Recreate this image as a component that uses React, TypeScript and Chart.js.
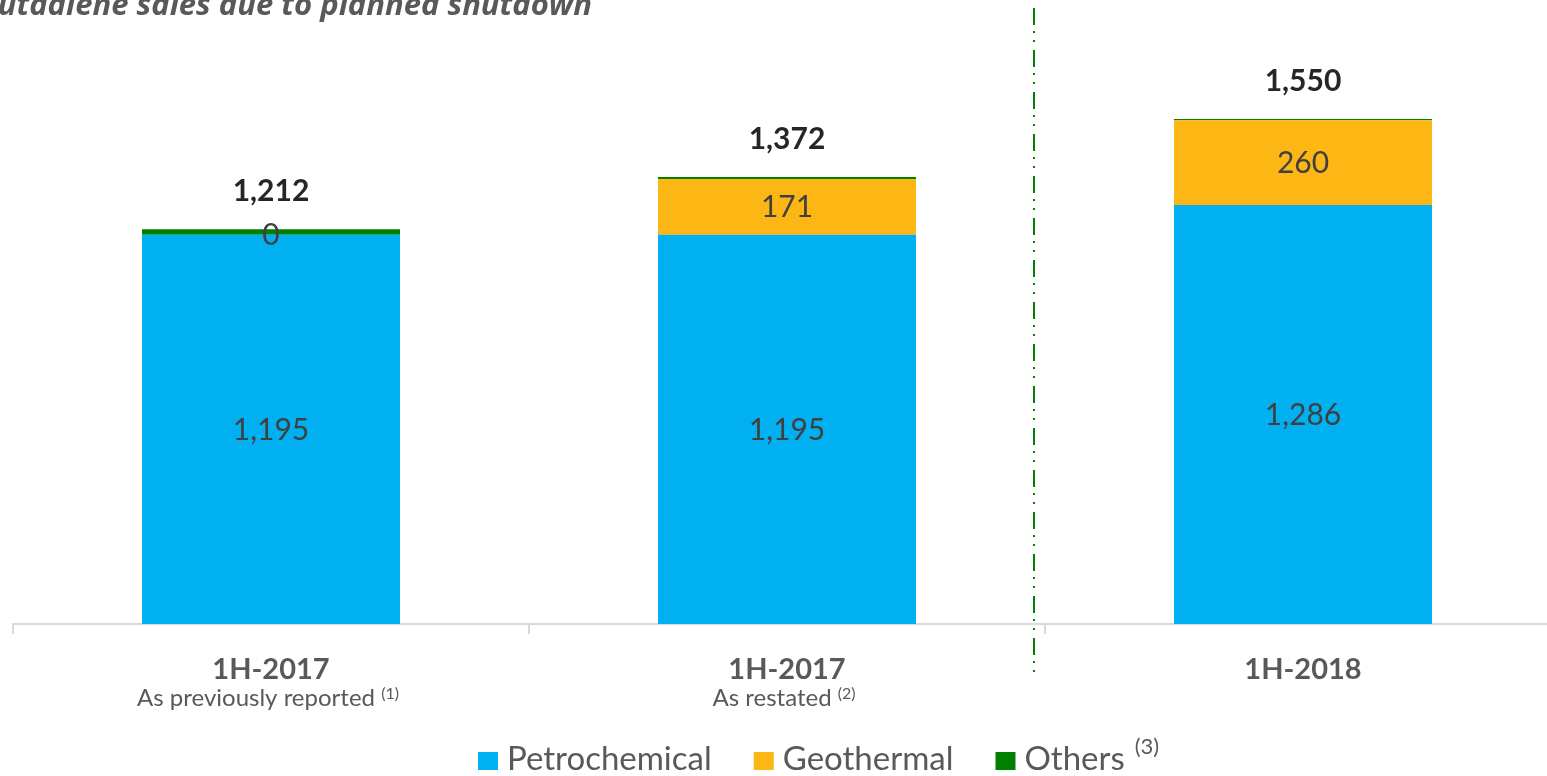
import React, { useEffect, useRef } from "react";
import { Chart, registerables } from "chart.js";

Chart.register(...registerables);

const categories = ["1H-2017", "1H-2017", "1H-2018"];
const subtitles = ["As previously reported", "As restated", ""];
const subtitleNotes = ["(1)", "(2)", ""];
const petrochemical = [1195, 1195, 1286];
const geothermal = [0, 171, 260];
const others = [17, 6, 4];
const seriesNames = ["Petrochemical", "Geothermal", "Others"];
const seriesColors = ["#00B0F0", "#FDB714", "#008000"];
const seriesShowValues = [true, true, false];
const legendNotes = ["", "", "(3)"];
const headline = "butadiene sales due to planned shutdown";
const yMax = 1900;

const FONT = "Lato, 'Open Sans', sans-serif";

const fmt = (v: number) => v.toLocaleString("en-US");

const overlayPlugin = {
  id: "overlay",
  afterDatasetsDraw(chart: any) {
    const ctx = chart.ctx;
    const xScale = chart.scales.x;
    const n = chart.data.labels.length;
    ctx.save();

    // segment value labels
    chart.data.datasets.forEach((ds: any, di: number) => {
      if (!seriesShowValues[di]) return;
      const meta = chart.getDatasetMeta(di);
      meta.data.forEach((bar: any, i: number) => {
        const cy = (bar.y + bar.base) / 2;
        ctx.font = `30px ${FONT}`;
        ctx.fillStyle = "#404040";
        ctx.textAlign = "center";
        ctx.textBaseline = "middle";
        ctx.fillText(fmt(ds.data[i]), bar.x, cy + 1);
      });
    });

    // totals
    const lastMeta = chart.getDatasetMeta(chart.data.datasets.length - 1);
    for (let i = 0; i < n; i++) {
      let total = 0;
      chart.data.datasets.forEach((ds: any) => (total += ds.data[i]));
      const bar: any = lastMeta.data[i];
      ctx.font = `bold 30px ${FONT}`;
      ctx.fillStyle = "#262626";
      ctx.textAlign = "center";
      ctx.textBaseline = "alphabetic";
      ctx.fillText(fmt(total), bar.x, bar.y - 28);
    }

    // category labels
    for (let i = 0; i < n; i++) {
      const x = xScale.getPixelForValue(i);
      ctx.font = `bold 29px ${FONT}`;
      ctx.fillStyle = "#595959";
      ctx.textAlign = "center";
      ctx.textBaseline = "alphabetic";
      ctx.fillText(chart.data.labels[i], x, 679);
      if (subtitles[i]) {
        ctx.font = `24px ${FONT}`;
        const w1 = ctx.measureText(subtitles[i] + " ").width;
        ctx.font = `16px ${FONT}`;
        const w2 = ctx.measureText(subtitleNotes[i]).width;
        const start = x - (w1 + w2) / 2 - 3;
        ctx.textAlign = "left";
        ctx.font = `24px ${FONT}`;
        ctx.fillText(subtitles[i], start, 706);
        ctx.font = `16px ${FONT}`;
        ctx.fillText(subtitleNotes[i], start + w1, 699);
      }
    }

    // legend
    let lx = 478;
    chart.data.datasets.forEach((ds: any, di: number) => {
      ctx.fillStyle = ds.backgroundColor;
      ctx.fillRect(lx, 752, 20, 18);
      lx += 20 + 9;
      ctx.font = `33px ${FONT}`;
      ctx.fillStyle = "#595959";
      ctx.textAlign = "left";
      ctx.textBaseline = "alphabetic";
      ctx.fillText(ds.label, lx, 770);
      lx += ctx.measureText(ds.label).width;
      if (legendNotes[di]) {
        ctx.font = `22px ${FONT}`;
        ctx.fillText(legendNotes[di], lx + 10, 754);
        lx += 10 + ctx.measureText(legendNotes[di]).width;
      }
      lx += 42;
    });

    // separator dash-dot line
    const b = (xScale.getPixelForValue(1) + xScale.getPixelForValue(2)) / 2;
    ctx.strokeStyle = "#008000";
    ctx.lineWidth = 2;
    ctx.setLineDash([17, 6, 2, 7, 2, 8]);
    ctx.beginPath();
    ctx.moveTo(b - 11, 8);
    ctx.lineTo(b - 11, 676);
    ctx.stroke();
    ctx.setLineDash([]);

    // headline (partially clipped)
    ctx.font = `italic bold 31px 'Open Sans', sans-serif`;
    ctx.fillStyle = "#595959";
    ctx.textAlign = "right";
    ctx.textBaseline = "alphabetic";
    ctx.fillText(headline, 592, 15);

    ctx.restore();
  },
};

export default function App() {
  const ref = useRef<HTMLCanvasElement | null>(null);

  useEffect(() => {
    if (!ref.current) return;
    const chart = new Chart(ref.current, {
      type: "bar",
      data: {
        labels: categories,
        datasets: [
          { label: seriesNames[0], data: petrochemical, backgroundColor: seriesColors[0] },
          { label: seriesNames[1], data: geothermal, backgroundColor: seriesColors[1] },
          { label: seriesNames[2], data: others, backgroundColor: seriesColors[2] },
        ],
      },
      options: {
        responsive: false,
        animation: false,
        layout: { padding: { left: 13, right: 9, top: 5, bottom: 142 } },
        datasets: { bar: { categoryPercentage: 1, barPercentage: 0.5 } } as any,
        plugins: {
          legend: { display: false },
          tooltip: { enabled: false },
        },
        scales: {
          x: {
            stacked: true,
            grid: {
              offset: true,
              drawOnChartArea: false,
              drawTicks: true,
              tickLength: 10,
              color: "#D9D9D9",
              lineWidth: 2,
            },
            border: { display: true, color: "#D9D9D9", width: 2 },
            ticks: { display: false },
          },
          y: { stacked: true, display: false, min: 0, max: yMax },
        },
      },
      plugins: [overlayPlugin],
    });
    return () => chart.destroy();
  }, []);

  return (
    <div
      style={{
        position: "fixed",
        left: 0,
        top: 0,
        width: 1547,
        height: 776,
        overflow: "hidden",
        background: "#fff",
      }}
    >
      <canvas ref={ref} width={1570} height={776} style={{ display: "block" }} />
    </div>
  );
}
